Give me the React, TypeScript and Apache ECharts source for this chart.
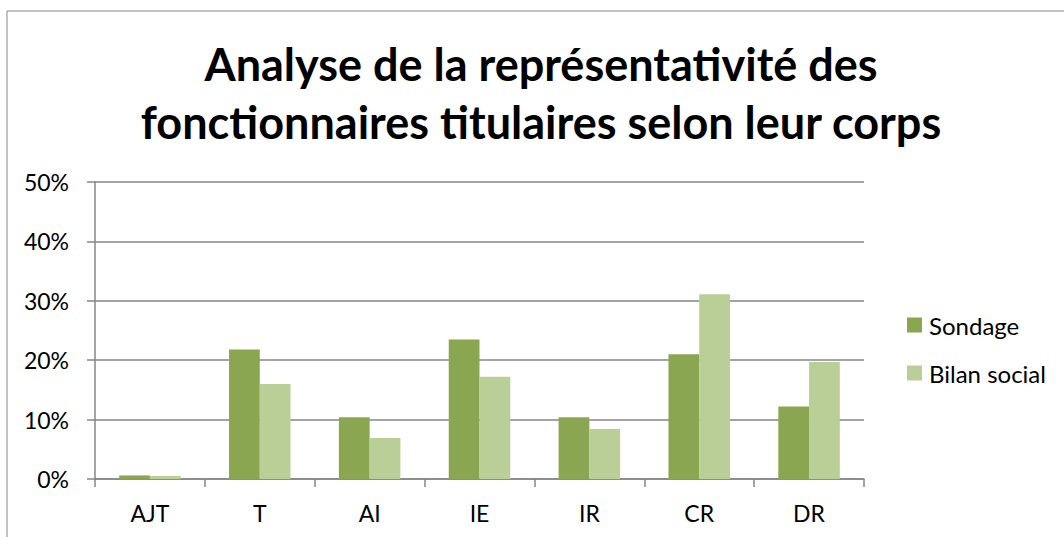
import React, { useEffect, useRef } from "react";
import * as echarts from "echarts";

const categories = ["AJT", "T", "AI", "IE", "IR", "CR", "DR"];
const sondage = [0.6, 21.8, 10.4, 23.5, 10.4, 21.0, 12.2];
const bilanSocial = [0.5, 16.0, 6.9, 17.2, 8.4, 31.1, 19.7];
const seriesNames = ["Sondage", "Bilan social"];
const titleLines = [
  "Analyse de la représentativité des",
  "fonctionnaires titulaires selon leur corps",
];

const FONT = "Lato";

export default function App() {
  const ref = useRef<HTMLDivElement>(null);
  useEffect(() => {
    if (!ref.current) return;
    const chart = echarts.init(ref.current, undefined, { renderer: "svg" });
    chart.setOption({
      animation: false,
      backgroundColor: "#ffffff",
      textStyle: { fontFamily: FONT },
      graphic: [
        {
          type: "rect",
          shape: { x: 7, y: 11, width: 1100, height: 600 },
          style: { fill: "none", stroke: "#878787", lineWidth: 1 },
          silent: true,
        },
      ],
      title: {
        text: titleLines.join("\n"),
        left: 541,
        textAlign: "center",
        top: 35,
        padding: 0,
        textStyle: {
          fontFamily: FONT,
          fontWeight: "bold",
          fontSize: 45,
          lineHeight: 58,
          color: "#000000",
        },
      },
      legend: {
        orient: "vertical",
        left: 907,
        top: 313,
        padding: 0,
        itemWidth: 15,
        itemHeight: 15,
        itemGap: 24,
        icon: "rect",
        data: seriesNames,
        textStyle: {
          fontFamily: FONT,
          fontSize: 24,
          lineHeight: 24,
          color: "#000000",
          padding: [0, 0, 0, 2],
        },
      },
      grid: { left: 95, right: 200, top: 182, bottom: 58, containLabel: false },
      xAxis: {
        type: "category",
        data: categories,
        axisLine: { lineStyle: { color: "#868686", width: 1.5 } },
        axisTick: { show: true, length: 8, alignWithLabel: false, lineStyle: { color: "#868686", width: 1.5 } },
        axisLabel: { fontFamily: FONT, fontSize: 23, color: "#000000", margin: 22 },
      },
      yAxis: {
        type: "value",
        min: 0,
        max: 50,
        interval: 10,
        axisLine: { show: true, lineStyle: { color: "#868686", width: 1.5 } },
        axisTick: { show: true, length: 8, lineStyle: { color: "#868686", width: 1.5 } },
        splitLine: { lineStyle: { color: "#868686", width: 1.5 } },
        axisLabel: {
          fontFamily: FONT,
          fontSize: 23,
          color: "#000000",
          margin: 26,
          formatter: (v: number) => `${v}%`,
        },
      },
      series: [
        {
          name: seriesNames[0],
          type: "bar",
          data: sondage,
          barGap: "0%",
          barCategoryGap: "44%",
          itemStyle: { color: "#8BA650" },
        },
        {
          name: seriesNames[1],
          type: "bar",
          data: bilanSocial,
          barGap: "0%",
          barCategoryGap: "44%",
          itemStyle: { color: "#BACF97" },
        },
      ],
    });
    return () => chart.dispose();
  }, []);
  return (
    <div
      ref={ref}
      style={{ position: "absolute", left: 0, top: 0, width: 1064, height: 537 }}
    />
  );
}
